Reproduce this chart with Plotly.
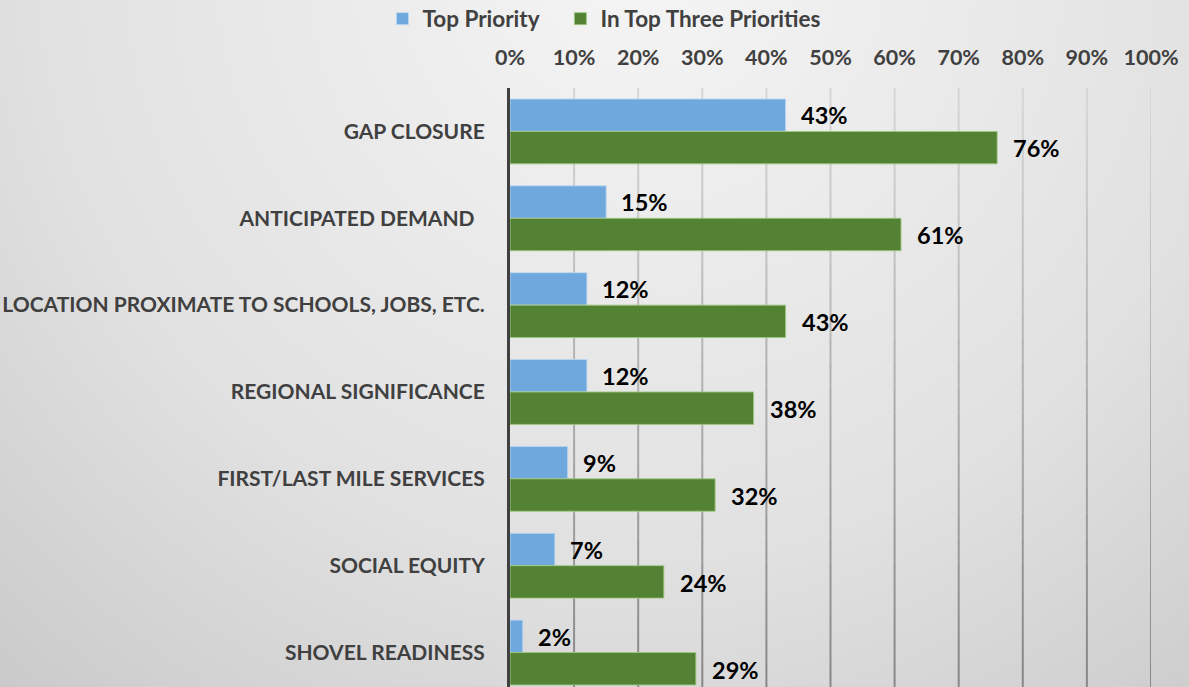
import base64
import plotly.graph_objects as go

# ---- data ----
categories = [
    "GAP CLOSURE",
    "ANTICIPATED DEMAND\u00a0\u00a0",
    "LOCATION PROXIMATE TO SCHOOLS, JOBS, ETC.",
    "REGIONAL SIGNIFICANCE",
    "FIRST/LAST MILE SERVICES",
    "SOCIAL EQUITY",
    "SHOVEL READINESS",
]
top_priority = [43, 15, 12, 12, 9, 7, 2]
top_three = [76, 61, 43, 38, 32, 24, 29]
series_names = ["Top Priority\u00a0\u00a0\u00a0", "In Top Three Priorities"]
tick_values = [0, 10, 20, 30, 40, 50, 60, 70, 80, 90, 100]
tick_labels = ["0%", "10%", "20%", "30%", "40%", "50%", "60%", "70%", "80%", "90%", "100%"]

# ---- page geometry ----
W, H = 1189, 687
M_L, M_R, M_T, M_B = 510, 38, 88, 0
PLOT_W = W - M_L - M_R
PLOT_H = H - M_T - M_B
BAND_PX = 86.85
y_bottom = -0.5 + PLOT_H / BAND_PX

FONT = "Lato"
BLUE = "#6fa8dc"
GREEN = "#548235"
AXIS_GRAY = "#404040"

# soft radial background
svg = f"""<svg xmlns='http://www.w3.org/2000/svg' width='{W}' height='{H}'>
<defs><radialGradient id='g' gradientUnits='userSpaceOnUse' cx='640' cy='-40' r='1000'>
<stop offset='0' stop-color='#f5f5f5'/>
<stop offset='0.6' stop-color='#e1e1e1'/>
<stop offset='1' stop-color='#c8c8c8'/>
</radialGradient></defs>
<rect width='{W}' height='{H}' fill='url(#g)'/></svg>"""
bg_uri = "data:image/svg+xml;base64," + base64.b64encode(svg.encode()).decode()

fig = go.Figure()
fig.add_trace(go.Bar(
    y=categories, x=top_priority, orientation="h", name=series_names[0],
    marker=dict(color=BLUE, line=dict(color="rgba(190,215,240,0.9)", width=1)),
    hoverinfo="skip",
))
fig.add_trace(go.Bar(
    y=categories, x=top_three, orientation="h", name=series_names[1],
    marker=dict(color=GREEN, line=dict(color="rgba(160,200,130,0.9)", width=1)),
    hoverinfo="skip",
))

# value labels to the right of each bar
label_font = dict(family=FONT, size=23.5, color="black", weight="bold")
annotations = []
for cat, v in zip(categories, top_priority):
    annotations.append(dict(x=v, y=cat, text=f"{v}%", xanchor="left", yanchor="middle",
                            xshift=13, yshift=16, showarrow=False, font=label_font))
for cat, v in zip(categories, top_three):
    annotations.append(dict(x=v, y=cat, text=f"{v}%", xanchor="left", yanchor="middle",
                            xshift=14, yshift=-17, showarrow=False, font=label_font))

# vertical grid lines shaded darker toward the bottom
shapes = []
n_seg = 24
for t in tick_values[1:]:
    for k in range(n_seg):
        f = (k + 0.5) / n_seg
        c = int(round(0xd8 + (0x86 - 0xd8) * f))
        shapes.append(dict(type="line", xref="x", yref="paper", x0=t, x1=t,
                           y0=1 - k / n_seg, y1=1 - (k + 1) / n_seg,
                           line=dict(color=f"rgb({c},{c},{c})", width=2), layer="below"))

fig.update_layout(
    width=W, height=H,
    margin=dict(l=M_L, r=M_R, t=M_T, b=M_B, autoexpand=False),
    paper_bgcolor="rgba(0,0,0,0)", plot_bgcolor="rgba(0,0,0,0)",
    barmode="group", bargap=0.253, bargroupgap=0.0,
    images=[dict(source=bg_uri, xref="paper", yref="paper",
                 x=-M_L / PLOT_W, y=1 + M_T / PLOT_H,
                 sizex=W / PLOT_W, sizey=H / PLOT_H,
                 xanchor="left", yanchor="top", sizing="stretch", layer="below")],
    shapes=shapes,
    annotations=annotations,
    showlegend=True,
    legend=dict(orientation="h", x=-0.199, y=1 + (M_T - 19) / PLOT_H,
                xanchor="left", yanchor="middle", bgcolor="rgba(0,0,0,0)",
                font=dict(family=FONT, size=22.5, color=AXIS_GRAY, weight="bold"),
                traceorder="normal"),
    xaxis=dict(range=[0, 100], side="top", tickvals=tick_values, ticktext=tick_labels,
               showgrid=False, zeroline=False, showline=False, ticks="",
               ticklabelstandoff=18, automargin=False,
               tickfont=dict(family=FONT, size=21.5, color=AXIS_GRAY, weight="bold"),
               fixedrange=True),
    yaxis=dict(type="category", categoryorder="array", categoryarray=categories,
               range=[y_bottom, -0.5], showgrid=False, zeroline=False,
               showline=True, linecolor=AXIS_GRAY, linewidth=3, ticks="",
               ticklabelstandoff=18, automargin=False,
               tickfont=dict(family=FONT, size=21, color=AXIS_GRAY, weight="bold"),
               fixedrange=True),
    font=dict(family=FONT),
)

fig.write_html("out.html", config={"displayModeBar": False})
